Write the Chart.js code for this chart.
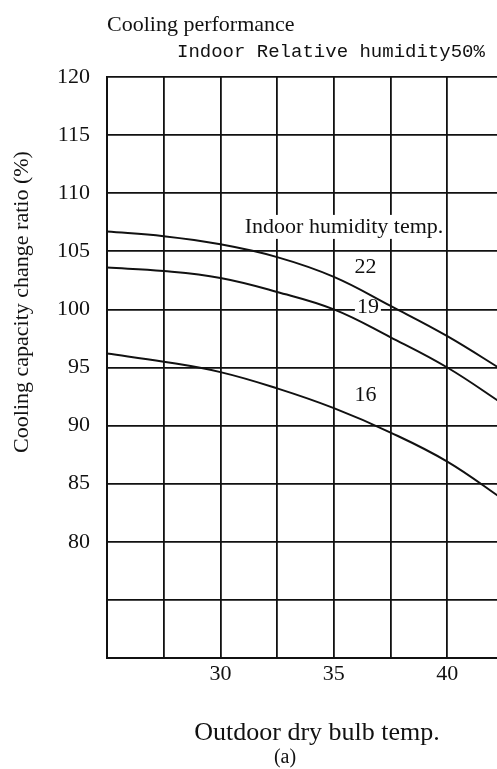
<!DOCTYPE html>
<html lang="en">

<head>
    <meta charset="UTF-8">
    <title>Cooling performance</title>
    <script src="https://cdn.jsdelivr.net/npm/chart.js"></script>
    <style>
        html, body { margin: 0; padding: 0; background: #fff; overflow: hidden; }
        .chart-box { position: relative; width: 520px; height: 769px; }
    </style>
</head>

<body>
    <div class="chart-box">
        <canvas id="coolingChart"></canvas>
    </div>

    <script>
        // outdoor dry bulb temp (x) and capacity ratio (%) per indoor humidity temp
        const temps = [25, 27.5, 30, 32.5, 35, 37.5, 40, 42.5];
        const ratio22 = [106.7, 106.3, 105.6, 104.5, 102.8, 100.3, 97.7, 94.7];
        const ratio19 = [103.6, 103.3, 102.7, 101.5, 100.0, 97.6, 95.0, 91.8];
        const ratio16 = [96.2, 95.5, 94.6, 93.2, 91.5, 89.4, 86.9, 83.6];
        const curveNames = ['22', '19', '16'];
        const yTickLabels = [120, 115, 110, 105, 100, 95, 90, 85, 80];
        const xTickLabels = [30, 35, 40];

        // text inside the plot, placed in data units
        const notes = [
            { text: 'Indoor humidity temp.', x: 35.45, y: 107.1, bg: true },
            { text: curveNames[0], x: 36.4, y: 103.65, bg: false },
            { text: curveNames[1], x: 36.5, y: 100.2, bg: true },
            { text: curveNames[2], x: 36.4, y: 92.6, bg: false }
        ];

        const ink = '#111';
        const serif = '"Liberation Serif", "DejaVu Serif", serif';

        const textPlugin = {
            id: 'textPlugin',
            beforeDatasetsDraw(chart) {
                const { ctx, scales: { x, y } } = chart;
                ctx.save();
                ctx.font = '22px ' + serif;
                ctx.textAlign = 'center';
                ctx.textBaseline = 'middle';
                notes.forEach(n => {
                    const px = x.getPixelForValue(n.x);
                    const py = y.getPixelForValue(n.y);
                    if (n.bg) {
                        const w = ctx.measureText(n.text).width;
                        ctx.fillStyle = '#fff';
                        ctx.fillRect(px - w / 2 - 2, py - 12, w + 4, 24);
                    }
                    ctx.fillStyle = ink;
                    ctx.fillText(n.text, px, py);
                });
                ctx.restore();
            },
            afterDraw(chart) {
                const ctx = chart.ctx;
                ctx.save();
                ctx.fillStyle = ink;
                ctx.textBaseline = 'middle';
                ctx.textAlign = 'left';
                ctx.font = '22px ' + serif;
                ctx.fillText('Cooling performance', 107, 25);
                ctx.font = '19px "Liberation Mono", "DejaVu Sans Mono", monospace';
                ctx.fillText('Indoor Relative humidity50%', 177, 52);

                ctx.textAlign = 'center';
                ctx.font = '26px ' + serif;
                ctx.fillText('Outdoor dry bulb temp.', 317, 733);
                ctx.font = '20px ' + serif;
                ctx.fillText('(a)', 285, 758);

                // y axis title, rotated
                ctx.translate(22, 302);
                ctx.rotate(-Math.PI / 2);
                ctx.font = '22px ' + serif;
                ctx.fillText('Cooling capacity change ratio (%)', 0, 0);
                ctx.restore();
            }
        };

        const lineStyle = {
            borderColor: ink,
            borderWidth: 2,
            pointRadius: 0,
            fill: false,
            tension: 0.4
        };

        const ctx = document.getElementById('coolingChart').getContext('2d');
        new Chart(ctx, {
            type: 'line',
            data: {
                datasets: [
                    { label: curveNames[0], data: temps.map((t, i) => ({ x: t, y: ratio22[i] })), ...lineStyle },
                    { label: curveNames[1], data: temps.map((t, i) => ({ x: t, y: ratio19[i] })), ...lineStyle },
                    { label: curveNames[2], data: temps.map((t, i) => ({ x: t, y: ratio16[i] })), ...lineStyle }
                ]
            },
            options: {
                responsive: true,
                maintainAspectRatio: false,
                animation: false,
                layout: {
                    padding: { top: 77, right: 16, bottom: 0, left: 0 }
                },
                plugins: {
                    legend: { display: false },
                    tooltip: { enabled: false }
                },
                scales: {
                    x: {
                        type: 'linear',
                        min: 25,
                        max: 42.5,
                        afterFit: scale => { scale.height = 111; },
                        grid: { color: ink, lineWidth: 1.8, drawTicks: false },
                        border: { color: ink, width: 2 },
                        ticks: {
                            stepSize: 2.5,
                            autoSkip: false,
                            maxRotation: 0,
                            padding: 3,
                            color: ink,
                            font: { family: serif, size: 22 },
                            callback: v => xTickLabels.includes(v) ? String(v) : ''
                        }
                    },
                    y: {
                        min: 70,
                        max: 120,
                        afterFit: scale => { scale.width = 107; },
                        grid: { color: ink, lineWidth: 1.8, drawTicks: false },
                        border: { color: ink, width: 2 },
                        ticks: {
                            stepSize: 5,
                            padding: 17,
                            color: ink,
                            font: { family: serif, size: 22 },
                            callback: v => yTickLabels.includes(v) ? String(v) : ''
                        }
                    }
                }
            },
            plugins: [textPlugin]
        });
    </script>
</body>

</html>
